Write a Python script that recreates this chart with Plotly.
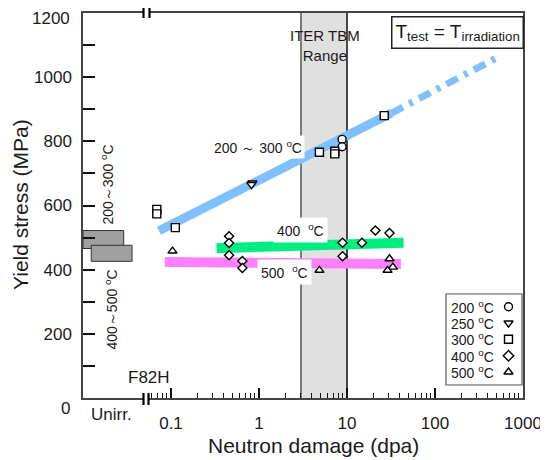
import plotly.graph_objects as go

# ---------------- data ----------------
# unirradiated ranges (MPa)
unirr_labels = ["200～300 <sup>o</sup>C", "400～500 <sup>o</sup>C"]
unirr_low = [466, 426]
unirr_high = [522, 476]

# irradiated data points (dpa, MPa)
t200_dpa = [8.8, 8.8]
t200_ys = [806, 783]
t250_dpa = [0.84, 0.82]
t250_ys = [670, 665]
t300_dpa = [0.069, 0.069, 0.112, 4.86, 7.26, 7.26, 26.5]
t300_ys = [588, 574, 531, 766, 769, 761, 880]
t400_dpa = [0.457, 0.457, 0.457, 0.647, 0.647, 8.9, 8.9, 14.8, 21.0, 30.4]
t400_ys = [504, 483, 445, 427, 405, 484, 442, 484, 522, 514]
t500_dpa = [0.104, 4.86, 30.4, 33.2, 28.9]
t500_ys = [458, 398, 434, 408, 398]

# trend lines
blue_dpa = [0.073, 32]
blue_ys = [521, 888]
blue_ext_dpa = [32, 500]
blue_ext_ys = [888, 1060]
green_dpa = [0.33, 44]
green_ys = [467, 484]
magenta_dpa = [0.085, 41]
magenta_ys = [424, 418]

iter_range = [3, 10]

x_ticks = [0.1, 1, 10, 100, 1000]
x_ticktext = ["0.1", "1", "10", "100", "1000"]
x_minor = [0.06, 0.07, 0.08, 0.09] + [m * d for d in (0.1, 1, 10, 100) for m in range(2, 10)]
y_ticks = [200, 400, 600, 800, 1000, 1200]
y_ticktext = ["200", "400", "600", "800", "1000", ""]   # top label drawn separately
y_top_label = "1200"
y_minor = [100, 300, 500, 700, 900, 1100]

legend_temps = ["200", "250", "300", "400", "500"]
legend_symbols = ["circle", "triangle-down", "square", "diamond", "triangle-up"]

FONT = "Liberation Sans, Arial, sans-serif"
# the page body has an 8px margin; size the figure so the plot lands where wanted
BODY = 8
WIN_W, WIN_H = 548, 460
W, H = WIN_W - BODY, WIN_H - BODY
# plot area in window pixels
PX_L, PX_R, PX_T, PX_B = 83, 523, 13, 398
ML, MT = PX_L - BODY, PX_T - BODY
MR = (BODY + W) - PX_R
MB = (BODY + H) - PX_B
PW, PH = PX_R - PX_L, PX_B - PX_T


def px2paper_x(px):
    return (px - PX_L) / PW


def px2paper_y(py):
    return (PX_B - py) / PH


fig = go.Figure()

# unirradiated bars (drawn as filled rectangles in the unirr region)
bar_x = [(0.01, 0.029), (0.0124, 0.0361)]
for (x0, x1), lo, hi in zip(bar_x, unirr_low, unirr_high):
    fig.add_trace(go.Scatter(
        x=[x0, x1, x1, x0, x0], y=[lo, lo, hi, hi, lo],
        mode="lines", fill="toself", fillcolor="#a0a0a0",
        line=dict(color="#333333", width=1), hoverinfo="skip", showlegend=False))

# trend lines
fig.add_trace(go.Scatter(x=blue_dpa, y=blue_ys, mode="lines",
                         line=dict(color="#80c0ff", width=9), showlegend=False))
fig.add_trace(go.Scatter(x=blue_ext_dpa, y=blue_ext_ys, mode="lines",
                         line=dict(color="#80c0ff", width=7, dash="13px,7px,4px,7px"),
                         showlegend=False))
fig.add_trace(go.Scatter(x=green_dpa, y=green_ys, mode="lines",
                         line=dict(color="#00ee80", width=10), showlegend=False))
fig.add_trace(go.Scatter(x=magenta_dpa, y=magenta_ys, mode="lines",
                         line=dict(color="#ff80ff", width=10), showlegend=False))

# markers
series = [
    (t200_dpa, t200_ys, "circle", 8),
    (t250_dpa, t250_ys, "triangle-down", 8),
    (t300_dpa, t300_ys, "square", 8),
    (t400_dpa, t400_ys, "diamond", 7),
    (t500_dpa, t500_ys, "triangle-up", 8),
]
for xs, ys, sym, sz in series:
    fig.add_trace(go.Scatter(
        x=xs, y=ys, mode="markers",
        marker=dict(symbol=sym, size=sz, color="white",
                    line=dict(color="black", width=1.4)),
        showlegend=False))

# custom legend markers on an overlay axis
leg_rows_px = [306.7, 323, 339.3, 355.7, 372]
fig.add_trace(go.Scatter(
    x=[px2paper_x(508.5)] * 5, y=[px2paper_y(p) for p in leg_rows_px],
    mode="markers", xaxis="x2", yaxis="y2",
    marker=dict(symbol=legend_symbols, size=8, color="white",
                line=dict(color="black", width=1.4)),
    showlegend=False, hoverinfo="skip"))

shapes = []
# ITER band
shapes.append(dict(type="rect", xref="x", yref="paper",
                   x0=iter_range[0], x1=iter_range[1],
                   y0=0, y1=1, fillcolor="#e0e0e0", line=dict(width=0), layer="below"))
shapes.append(dict(type="line", xref="x", yref="paper",
                   x0=iter_range[0], x1=iter_range[0],
                   y0=0, y1=1, line=dict(color="#555555", width=1.5), layer="below"))
shapes.append(dict(type="line", xref="x", yref="paper",
                   x0=iter_range[1], x1=iter_range[1],
                   y0=0, y1=1, line=dict(color="#111111", width=1.5), layer="below"))

# axis break marks
for (xa, xb), (ya, yb) in [((143.5, 148.5), (393, 405)), ((143.5, 149.5), (8, 18))]:
    shapes.append(dict(type="rect", xref="paper", yref="paper",
                       x0=px2paper_x(xa), x1=px2paper_x(xb),
                       y0=px2paper_y((ya + yb) / 2 + 2), y1=px2paper_y((ya + yb) / 2 - 2),
                       fillcolor="white", line=dict(width=0), layer="above"))
    for xx in (xa, xb):
        shapes.append(dict(type="line", xref="paper", yref="paper",
                           x0=px2paper_x(xx), x1=px2paper_x(xx),
                           y0=px2paper_y(yb), y1=px2paper_y(ya),
                           line=dict(color="black", width=2.2), layer="above"))

# legend box
shapes.append(dict(type="rect", xref="paper", yref="paper",
                   x0=px2paper_x(446), x1=px2paper_x(522),
                   y0=px2paper_y(385), y1=px2paper_y(294),
                   fillcolor="white", line=dict(color="#555555", width=1.2), layer="below"))

annotations = []


def ann(text, px, py, size=14, **kw):
    d = dict(text=text, xref="paper", yref="paper", x=px2paper_x(px), y=px2paper_y(py),
             showarrow=False, font=dict(family=FONT, size=size, color="#1a1a1a"),
             xanchor="center", yanchor="middle")
    d.update(kw)
    annotations.append(d)


# line labels
ann("200 ～ 300 <sup>o</sup>C", 258, 147, 14, bgcolor="white", borderpad=2)
ann("400  <sup>o</sup>C", 300, 230, 14, bgcolor="white", borderpad=3)
ann("500  <sup>o</sup>C", 284, 272, 14, bgcolor="white", borderpad=3)
ann("ITER TBM<br>Range", 325, 45, 15)
ann("T<sub>test</sub> = T<sub>irradiation</sub>", 457.5, 32, 19,
    bgcolor="white", bordercolor="#222222", borderwidth=1.5, borderpad=3)
# unirradiated labels
ann(unirr_labels[0], 107.5, 185, 14, textangle=-90)
ann(unirr_labels[1], 111.5, 310, 14, textangle=-90)
ann("F82H", 149, 377, 17)
ann("Unirr.", 111, 415, 17)
ann("0", 65, 409, 17)
ann(y_top_label, 72, 18, 17, xanchor="right")
# legend texts
for t, py in zip(legend_temps, leg_rows_px):
    ann(t + " <sup>o</sup>C", 472, py, 14)
# axis titles
ann("Neutron damage (dpa)", 313, 445, 21)
ann("Yield stress (MPa)", 20, 205, 21, textangle=-90)

fig.update_layout(
    width=W, height=H,
    margin=dict(l=ML, r=MR, t=MT, b=MB, autoexpand=False),
    paper_bgcolor="white", plot_bgcolor="white",
    font=dict(family=FONT, size=17, color="#1a1a1a"),
    showlegend=False,
    shapes=shapes, annotations=annotations,
    xaxis=dict(type="log", range=[-2, 3], showgrid=False, zeroline=False,
               showline=True, mirror=True, linecolor="#444444", linewidth=1.5,
               tickmode="array", tickvals=x_ticks, ticktext=x_ticktext,
               ticks="inside", ticklen=10, tickwidth=2, tickcolor="#111111",
               tickfont=dict(size=17), ticklabelstandoff=9, ticklabeloverflow="allow",
               minor=dict(tickmode="array", tickvals=x_minor, ticks="inside",
                          ticklen=5, tickwidth=1.2, tickcolor="#111111", showgrid=False)),
    yaxis=dict(range=[0, 1200], showgrid=False, zeroline=False,
               showline=True, mirror=True, linecolor="#444444", linewidth=1.5,
               tickmode="array", tickvals=y_ticks, ticktext=y_ticktext,
               ticks="inside", ticklen=12, tickwidth=2, tickcolor="#111111",
               tickfont=dict(size=17), ticklabelstandoff=6, ticklabeloverflow="allow",
               minor=dict(tickmode="array", tickvals=y_minor, ticks="inside",
                          ticklen=12, tickwidth=2, tickcolor="#111111", showgrid=False)),
    xaxis2=dict(overlaying="x", range=[0, 1], visible=False, anchor="y2"),
    yaxis2=dict(overlaying="y", range=[0, 1], visible=False, anchor="x2"),
)

fig.write_html("out.html")
